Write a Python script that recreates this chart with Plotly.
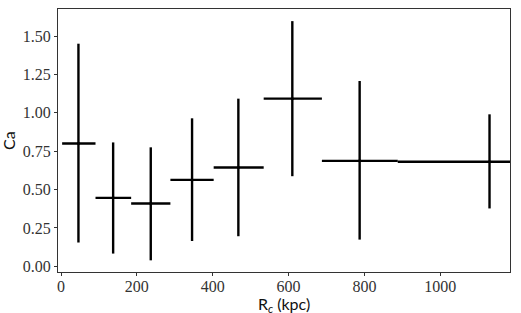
import plotly.graph_objects as go

# bin centres (kpc) and Ca values
rc = [46, 137.5, 236.7, 345.6, 467.7, 610, 787.5, 1130]
ca = [0.80, 0.446, 0.409, 0.563, 0.644, 1.092, 0.687, 0.681]
# bin edges
rc_lo = [3, 91, 185, 288.5, 402.6, 534.5, 688, 888]
rc_hi = [91, 185, 288.5, 402.6, 534.5, 688, 888, 1185]
# vertical error extents
ca_lo = [0.155, 0.083, 0.039, 0.165, 0.196, 0.587, 0.174, 0.377]
ca_hi = [1.45, 0.807, 0.775, 0.964, 1.092, 1.597, 1.207, 0.99]

x_ticks = [0, 200, 400, 600, 800, 1000]
x_labels = ["0", "200", "400", "600", "800", "1000"]
y_ticks = [0, 0.25, 0.5, 0.75, 1.0, 1.25, 1.5]
y_labels = ["0.00", "0.25", "0.50", "0.75", "1.00", "1.25", "1.50"]

ex_plus = [h - c for h, c in zip(rc_hi, rc)]
ex_minus = [c - l for c, l in zip(rc, rc_lo)]
ey_plus = [h - v for h, v in zip(ca_hi, ca)]
ey_minus = [v - l for v, l in zip(ca, ca_lo)]

fig = go.Figure()
fig.add_trace(go.Scatter(
    x=rc, y=ca, mode="markers",
    marker=dict(size=3, color="black"),
    error_x=dict(type="data", symmetric=False, array=ex_plus, arrayminus=ex_minus,
                 color="black", thickness=2.4, width=0),
    error_y=dict(type="data", symmetric=False, array=ey_plus, arrayminus=ey_minus,
                 color="black", thickness=2.4, width=0),
    showlegend=False,
))

tickfont = dict(family="Liberation Serif", size=16, color="#333")
axis_common = dict(showgrid=False, zeroline=False, showline=True, mirror=True,
                   linecolor="#333", linewidth=1, ticks="outside", ticklen=3,
                   tickcolor="#333", tickfont=tickfont, automargin=False)
fig.update_layout(
    width=521, height=313,
    margin=dict(l=57.5, r=11, t=9.3, b=41.3),
    paper_bgcolor="white", plot_bgcolor="white",
    xaxis=dict(range=[-7.9, 1184], tickvals=x_ticks, ticktext=x_labels,
               ticklabelstandoff=-3, **axis_common),
    yaxis=dict(range=[-0.037, 1.676], tickvals=y_ticks, ticktext=y_labels, **axis_common),
    annotations=[
        dict(text="R<sub><i>c</i></sub> (kpc)", x=0.5, y=-0.122, xref="paper", yref="paper",
             xanchor="center", yanchor="middle", showarrow=False,
             font=dict(family="Lato", size=16, color="#111")),
        dict(text="Ca", x=-0.1094, y=0.5, xref="paper", yref="paper", textangle=-90,
             xanchor="center", yanchor="middle", showarrow=False,
             font=dict(family="Lato", size=16, color="#111")),
    ],
)
fig.write_html("out.html", config={"displayModeBar": False},
               post_script="document.body.style.margin='0px';")
